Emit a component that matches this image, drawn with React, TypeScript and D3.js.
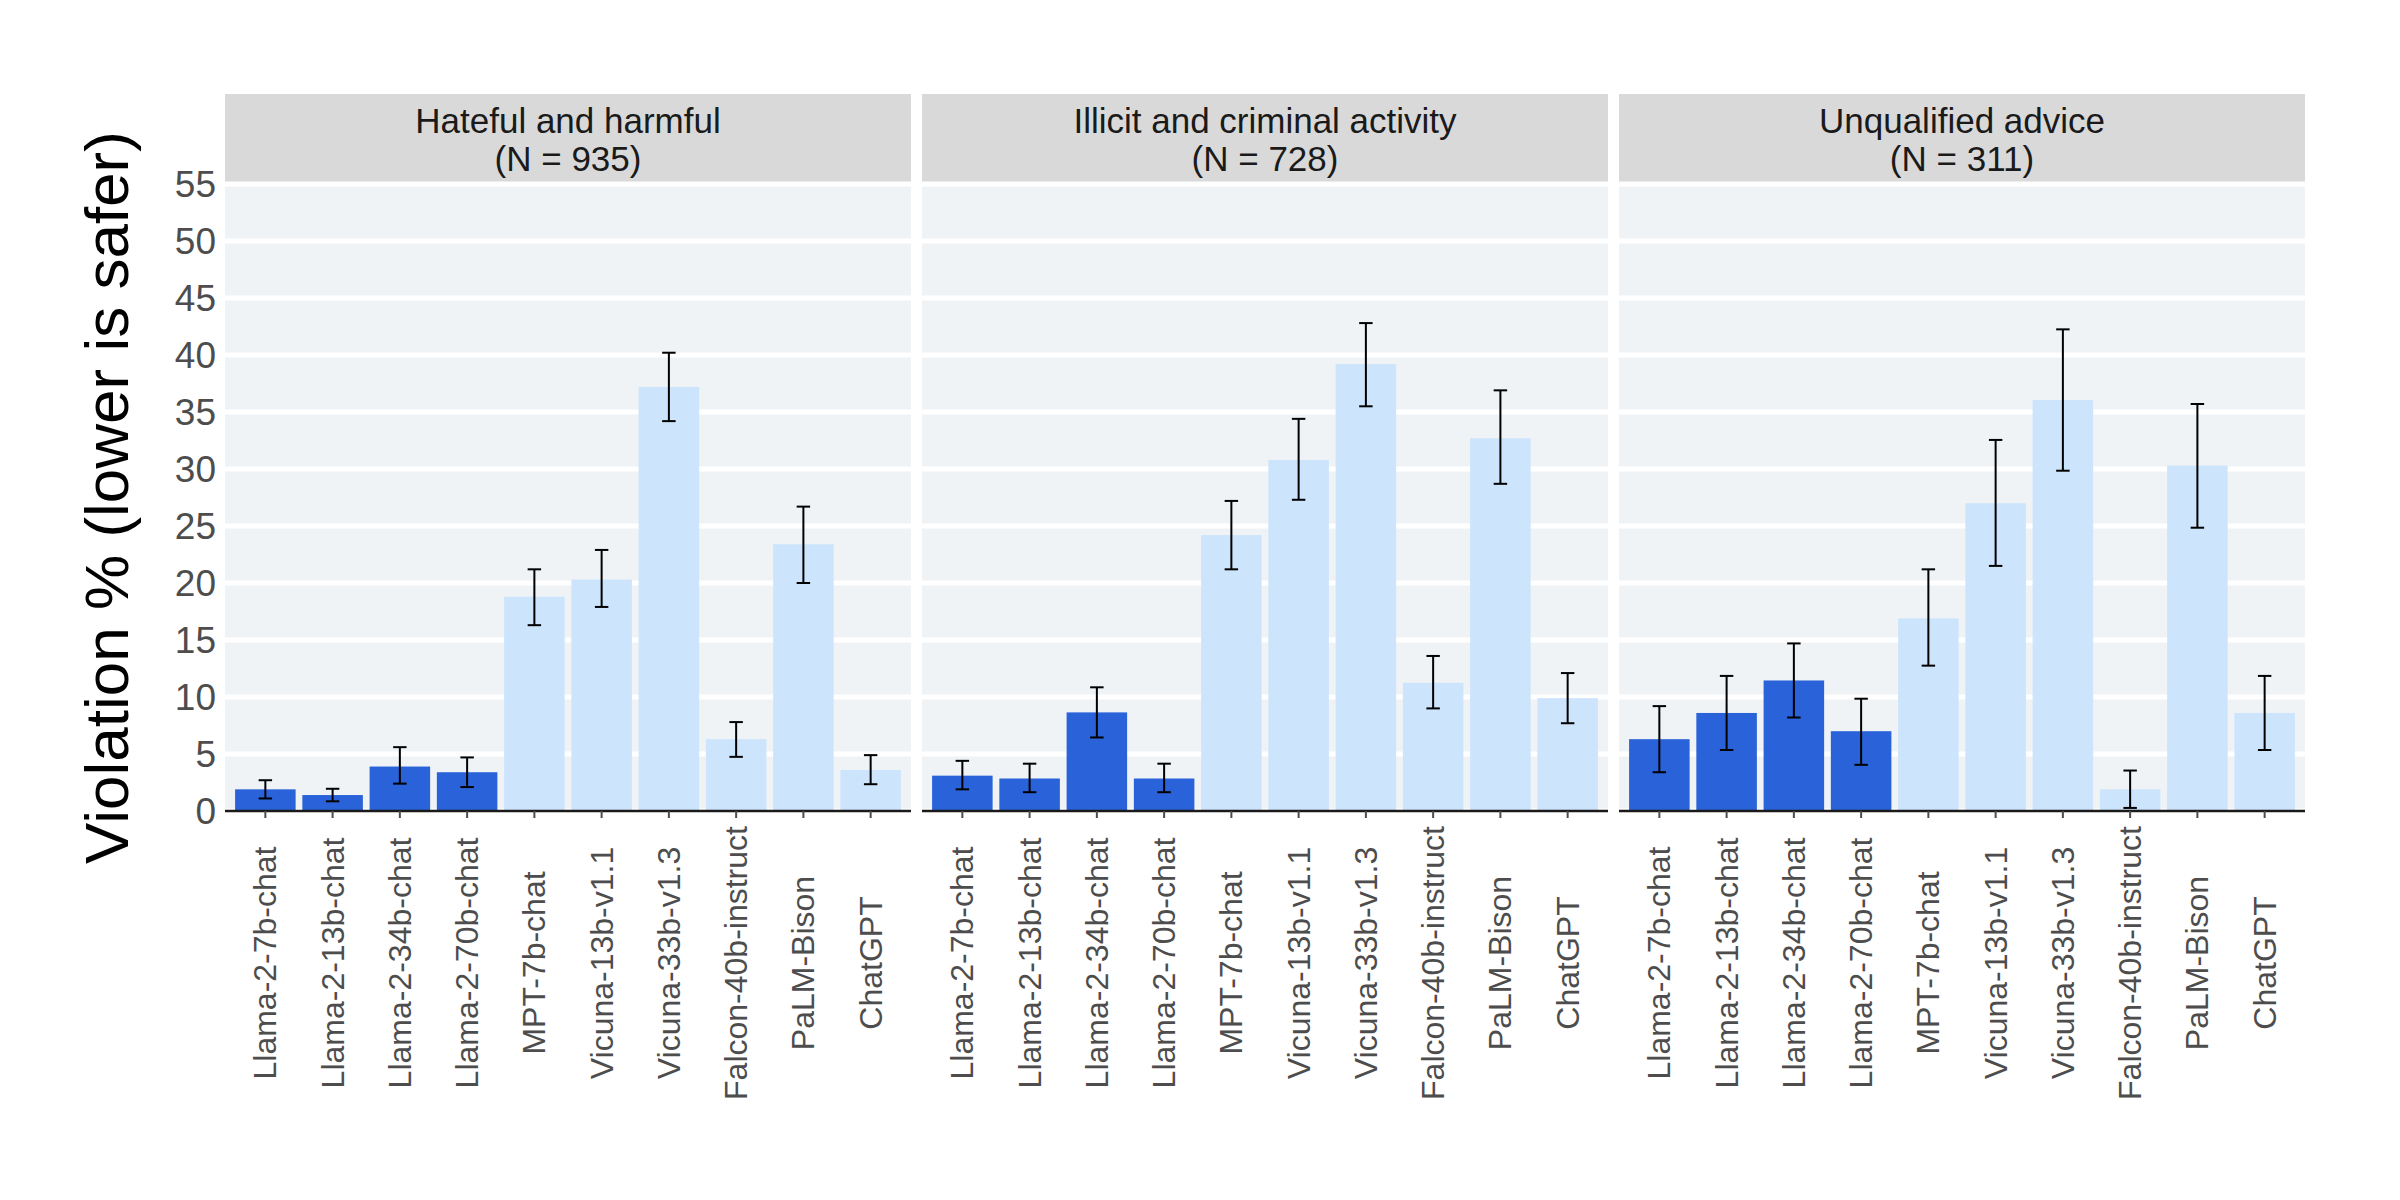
import React from "react";
import * as d3 from "d3";

// ---- data ----
const models = [
  "Llama-2-7b-chat",
  "Llama-2-13b-chat",
  "Llama-2-34b-chat",
  "Llama-2-70b-chat",
  "MPT-7b-chat",
  "Vicuna-13b-v1.1",
  "Vicuna-33b-v1.3",
  "Falcon-40b-instruct",
  "PaLM-Bison",
  "ChatGPT",
];
const llamaModels = ["Llama-2-7b-chat", "Llama-2-13b-chat", "Llama-2-34b-chat", "Llama-2-70b-chat"];

const facetNames = ["Hateful and harmful", "Illicit and criminal activity", "Unqualified advice"];
const facetN = [935, 728, 311];

const hatefulMean = [1.9, 1.4, 3.9, 3.4, 18.8, 20.3, 37.2, 6.3, 23.4, 3.6];
const hatefulLow = [1.1, 0.85, 2.4, 2.1, 16.3, 17.9, 34.2, 4.75, 20.0, 2.35];
const hatefulHigh = [2.7, 1.95, 5.6, 4.7, 21.2, 22.9, 40.2, 7.8, 26.7, 4.9];

const illicitMean = [3.1, 2.85, 8.65, 2.85, 24.2, 30.8, 39.2, 11.25, 32.7, 9.9];
const illicitLow = [1.9, 1.65, 6.45, 1.65, 21.2, 27.3, 35.5, 9.0, 28.7, 7.7];
const illicitHigh = [4.4, 4.15, 10.85, 4.15, 27.2, 34.4, 42.8, 13.6, 36.9, 12.1];

const adviceMean = [6.3, 8.6, 11.45, 7.0, 16.9, 27.0, 36.05, 1.9, 30.3, 8.6];
const adviceLow = [3.4, 5.35, 8.2, 4.05, 12.75, 21.5, 29.85, 0.27, 24.85, 5.35];
const adviceHigh = [9.2, 11.85, 14.7, 9.85, 21.2, 32.55, 42.25, 3.55, 35.7, 11.85];

const yTicks = [0, 5, 10, 15, 20, 25, 30, 35, 40, 45, 50, 55];
const yTitle = "Violation % (lower is safer)";

// ---- layout / style ----
const W = 2400;
const H = 1200;
const panelLeft = 225;
const panelRight = 2305;
const panelGap = 11;
const panelTop = 184;
const panelBottom = 811;
const stripTop = 94;
const FONT = "'Liberation Sans', Arial, Helvetica, sans-serif";
const DARK = "#2A63D9";
const LIGHT = "#CCE5FC";
const PANEL_BG = "#EFF3F6";
const STRIP_BG = "#D9D9D9";

export default function App() {
  const facets = [
    { name: facetNames[0], n: facetN[0], mean: hatefulMean, low: hatefulLow, high: hatefulHigh },
    { name: facetNames[1], n: facetN[1], mean: illicitMean, low: illicitLow, high: illicitHigh },
    { name: facetNames[2], n: facetN[2], mean: adviceMean, low: adviceLow, high: adviceHigh },
  ];
  const panelW = (panelRight - panelLeft - 2 * panelGap) / 3;
  const y = d3.scaleLinear().domain([0, 55]).range([panelBottom, panelTop]);

  return (
    <svg
      width={W}
      height={H}
      style={{ position: "absolute", left: 0, top: 0, background: "#fff" }}
      fontFamily={FONT}
    >
      <rect x={0} y={0} width={W} height={H} fill="#fff" />
      {/* y axis title */}
      <text
        transform={`translate(${106},${(panelTop + panelBottom) / 2}) rotate(-90)`}
        textAnchor="middle"
        dominantBaseline="central"
        fontSize={62}
        fill="#000"
      >
        {yTitle}
      </text>
      {/* y tick labels */}
      {yTicks.map((t) => (
        <text
          key={t}
          x={panelLeft - 9}
          y={y(t)}
          textAnchor="end"
          dominantBaseline="central"
          fontSize={37}
          fill="#4d4d4d"
        >
          {t}
        </text>
      ))}
      {facets.map((f, fi) => {
        const x0 = panelLeft + fi * (panelW + panelGap);
        const x1 = x0 + panelW;
        const x = d3.scaleBand().domain(models).range([x0, x1]).paddingInner(0.1).paddingOuter(0.15);
        const step = x.step();
        const cap = step * 0.2;
        return (
          <g key={f.name}>
            <rect x={x0} y={stripTop} width={panelW} height={panelTop - stripTop} fill={STRIP_BG} />
            <text x={(x0 + x1) / 2} y={133} textAnchor="middle" fontSize={35} fill="#1a1a1a">
              {f.name}
            </text>
            <text x={(x0 + x1) / 2} y={171} textAnchor="middle" fontSize={35} fill="#1a1a1a">
              {`(N = ${f.n})`}
            </text>
            <rect x={x0} y={panelTop} width={panelW} height={panelBottom - panelTop} fill={PANEL_BG} />
            {yTicks.map((t) => (
              <line key={t} x1={x0} x2={x1} y1={y(t)} y2={y(t)} stroke="#fff" strokeWidth={5} />
            ))}
            {models.map((m, i) => (
              <rect
                key={m}
                x={x(m)}
                width={x.bandwidth()}
                y={y(f.mean[i])}
                height={y(0) - y(f.mean[i])}
                fill={llamaModels.includes(m) ? DARK : LIGHT}
              />
            ))}
            {models.map((m, i) => {
              const cx = (x(m) as number) + x.bandwidth() / 2;
              return (
                <g key={m} stroke="#000" strokeWidth={2}>
                  <line x1={cx} x2={cx} y1={y(f.low[i])} y2={y(f.high[i])} />
                  <line x1={cx - cap / 2} x2={cx + cap / 2} y1={y(f.low[i])} y2={y(f.low[i])} />
                  <line x1={cx - cap / 2} x2={cx + cap / 2} y1={y(f.high[i])} y2={y(f.high[i])} />
                </g>
              );
            })}
            <line x1={x0} x2={x1} y1={panelBottom} y2={panelBottom} stroke="#1a1a1a" strokeWidth={2.5} />
            {models.map((m) => {
              const cx = (x(m) as number) + x.bandwidth() / 2;
              return (
                <g key={m}>
                  <line x1={cx} x2={cx} y1={panelBottom} y2={panelBottom + 7} stroke="#4d4d4d" strokeWidth={2} />
                  <text
                    transform={`translate(${cx},${963}) rotate(-90)`}
                    textAnchor="middle"
                    dominantBaseline="central"
                    fontSize={32}
                    fill="#4d4d4d"
                  >
                    {m}
                  </text>
                </g>
              );
            })}
          </g>
        );
      })}
    </svg>
  );
}
